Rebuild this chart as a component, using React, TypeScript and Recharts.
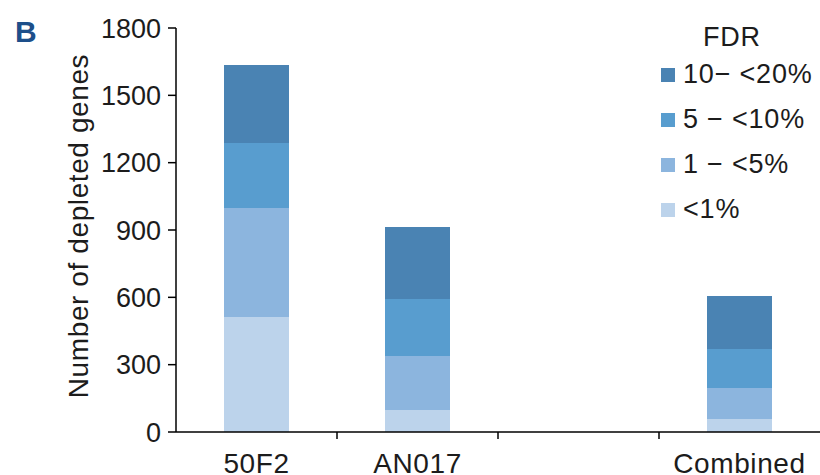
import React from 'react';
import { BarChart, Bar, XAxis, YAxis, Legend, Label } from 'recharts';

const categories = ['50F2', 'AN017', '', 'Combined'];
const fdrUnder1 = [512, 98, null, 58];
const fdr1to5 = [486, 241, null, 138];
const fdr5to10 = [290, 254, null, 174];
const fdr10to20 = [347, 320, null, 236];
const yTicks = [0, 300, 600, 900, 1200, 1500, 1800];

const series = [
  { key: 'lt1', name: '<1%', values: fdrUnder1, color: '#bcd3eb' },
  { key: 'p1', name: '1 \u2212 <5%', values: fdr1to5, color: '#8cb5de' },
  { key: 'p5', name: '5 \u2212 <10%', values: fdr5to10, color: '#589dcf' },
  { key: 'p10', name: '10\u2212 <20%', values: fdr10to20, color: '#4a83b3' },
];

const data = categories.map((c, i) => {
  const row: Record<string, any> = { name: c };
  series.forEach((s) => (row[s.key] = s.values[i]));
  return row;
});

const FONT = '"Liberation Sans", Arial, Helvetica, sans-serif';
const TEXT = '#1c1c1c';
const X_TICK_MARGIN = 21;

const XTick = (props: any) => {
  const { x, y, payload, index } = props;
  const half = payload && payload.offset ? payload.offset : 80.5;
  const axisY = y - X_TICK_MARGIN;
  return (
    <g>
      {index < categories.length - 1 && (
        <line x1={x + half} x2={x + half} y1={axisY} y2={axisY + 7} stroke="#000" strokeWidth={1.5} />
      )}
      <text x={x} y={y} dy="0.71em" textAnchor="middle" fill={TEXT} fontSize={28} letterSpacing={0.6} fontFamily={FONT}>
        {payload.value}
      </text>
    </g>
  );
};

const FdrLegend = () => (
  <div style={{ fontFamily: FONT, fontSize: 27, color: TEXT, letterSpacing: 0.8 }}>
    <div style={{ height: 30, lineHeight: '30px', paddingLeft: 42 }}>FDR</div>
    {[...series].reverse().map((s) => (
      <div key={s.key} style={{ height: 45, display: 'flex', alignItems: 'center' }}>
        <span style={{ width: 14, height: 14, background: s.color, marginRight: 8, display: 'inline-block' }} />
        <span style={{ whiteSpace: 'pre' }}>{s.name}</span>
      </div>
    ))}
  </div>
);

export default function App() {
  return (
    <div style={{ position: 'absolute', left: 0, top: 0, width: 820, height: 475, overflow: 'hidden', background: '#fff' }}>
      <div
        style={{
          position: 'absolute',
          left: 15,
          top: 17,
          fontFamily: FONT,
          fontWeight: 'bold',
          fontSize: 30,
          lineHeight: '30px',
          color: '#1d4f8a',
        }}
      >
        B
      </div>
      <BarChart width={820} height={475} data={data} margin={{ top: 28, right: 0, bottom: 0, left: 0 }}>
        <XAxis
          dataKey="name"
          height={43}
          interval={0}
          tickLine={false}
          tickSize={0}
          tickMargin={X_TICK_MARGIN}
          tick={<XTick />}
          axisLine={{ stroke: '#000', strokeWidth: 1.5 }}
        />
        <YAxis
          width={176}
          domain={[0, 1800]}
          ticks={yTicks}
          interval={0}
          tickSize={8}
          tickMargin={7}
          axisLine={{ stroke: '#000', strokeWidth: 1.5 }}
          tickLine={{ stroke: '#000', strokeWidth: 1.5 }}
          tick={{ fill: TEXT, fontSize: 27, fontFamily: FONT }}
        >
          <Label
            content={(p: any) => {
              const vb = p.viewBox || { x: 0, y: 28, width: 176, height: 404 };
              const cx = vb.x + 78;
              const cy = vb.y + vb.height / 2 - 4;
              return (
                <text
                  x={cx}
                  y={cy}
                  transform={`rotate(-90 ${cx} ${cy})`}
                  textAnchor="middle"
                  dominantBaseline="central"
                  fill={TEXT}
                  fontSize={28}
                  letterSpacing={0.6}
                  fontFamily={FONT}
                >
                  Number of depleted genes
                </text>
              );
            }}
          />
        </YAxis>
        <Legend
          layout="horizontal"
          verticalAlign="middle"
          align="center"
          wrapperStyle={{ left: 661, top: 22, width: 160 }}
          content={<FdrLegend />}
        />
        {series.map((s) => (
          <Bar key={s.key} dataKey={s.key} name={s.name} stackId="fdr" fill={s.color} barSize={65} isAnimationActive={false} />
        ))}
      </BarChart>
    </div>
  );
}
